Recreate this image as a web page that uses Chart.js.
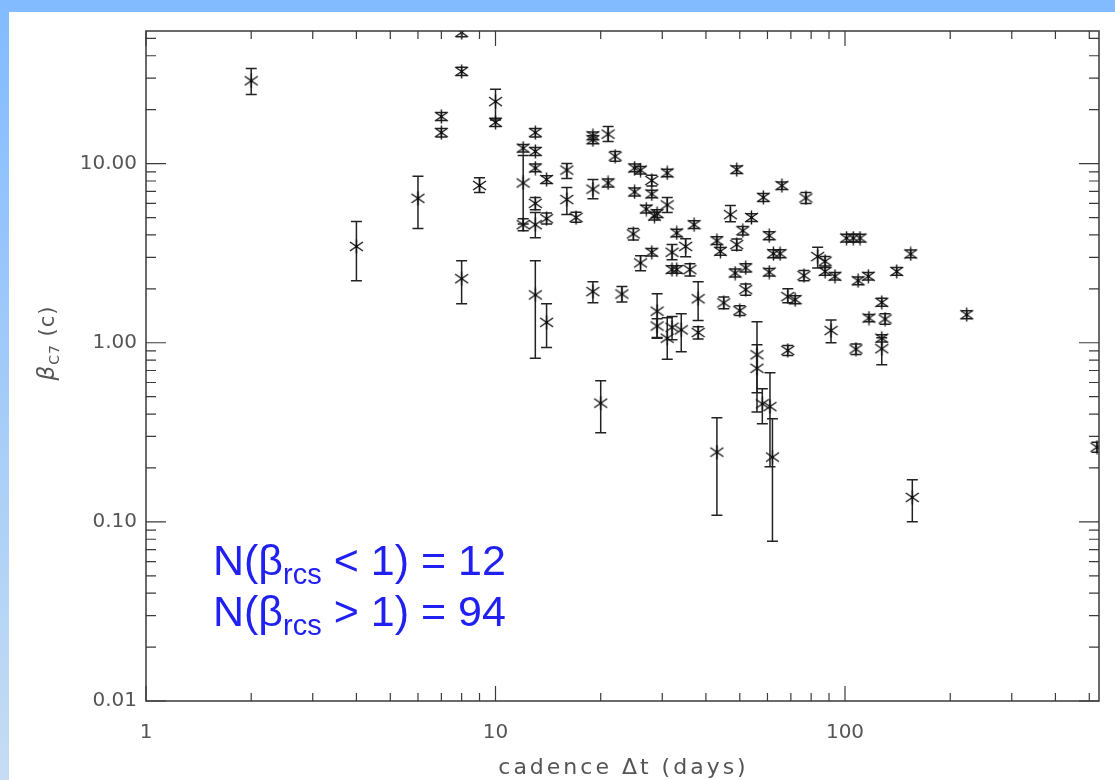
<!DOCTYPE html>
<html><head><meta charset="utf-8">
<script src="https://cdn.jsdelivr.net/npm/chart.js@4.4.1/dist/chart.umd.min.js"></script>
<style>html,body{margin:0;padding:0;background:#fff;overflow:hidden}canvas{display:block}</style>
</head><body>
<canvas id="c" width="1115" height="780"></canvas>
<script>
// cadence (days)
const cadence = [
  2.0, 4.0, 6.0, 8.0, 8.0, 8.0, 7.0, 7.0, 10.0, 10.0,
  9.0, 12.0, 12.0, 12.0, 13.0, 13.0, 13.0, 13.0, 13.0, 13.0,
  14.0, 14.0, 14.0, 16.0, 16.0, 17.0, 19.0, 19.0, 19.0, 19.0,
  20.0, 21.0, 21.0, 22.0, 23.0, 25.0, 26.0, 25.0, 24.8, 26.0,
  28.0, 28.0, 27.0, 28.0, 29.0, 28.5, 31.0, 31.0, 29.0, 29.0,
  31.0, 32.0, 34.0, 33.0, 32.0, 33.0, 32.0, 35.0, 36.0, 37.0,
  38.0, 38.0, 43.0, 44.0, 45.0, 43.0, 49.0, 47.0, 49.0, 51.0,
  54.0, 52.0, 48.5, 52.0, 50.0, 56.0, 56.0, 58.0, 61.0, 62.0,
  58.4, 60.7, 62.4, 65.2, 60.7, 66.0, 68.6, 72.0, 68.6, 77.3,
  76.3, 83.5, 87.7, 87.7, 93.6, 91.2, 101, 105.6, 110.4, 109,
  116.6, 127.4, 117.1, 130.2, 107.5, 127.4, 127.4, 140.6, 154.2, 223,
  155.8, 526
];
// beta_C7 (c)
const beta = [
  29, 3.45, 6.4, 2.28, 32.7, 54, 18.3, 14.9, 22.2, 17.0,
  7.55, 12.2, 7.8, 4.56, 14.9, 11.7, 9.45, 6.0, 4.56, 1.85,
  8.15, 4.93, 1.30, 9.2, 6.3, 5.0, 14.3, 13.6, 7.2, 1.93,
  0.46, 14.6, 7.8, 11.0, 1.87, 9.45, 9.2, 6.95, 4.05, 2.79,
  8.05, 6.77, 5.58, 3.2, 5.26, 5.1, 8.87, 5.88, 1.50, 1.24,
  1.06, 1.22, 1.18, 4.1, 3.2, 2.56, 2.56, 3.45, 2.56, 4.56,
  1.76, 1.14, 3.71, 3.24, 1.67, 0.245, 9.26, 5.19, 3.53, 4.22,
  5.0, 2.62, 2.45, 1.98, 1.51, 0.857, 0.72, 0.456, 0.44, 0.23,
  6.48, 3.96, 3.14, 3.14, 2.48, 7.54, 1.81, 1.74, 0.906, 6.43,
  2.37, 3.03, 2.85, 2.5, 2.35, 1.17, 3.84, 3.84, 3.84, 2.22,
  2.35, 1.68, 1.374, 1.356, 0.922, 1.06, 0.926, 2.5, 3.13, 1.434,
  0.137, 0.261
];
// lower end of error bar
const betaLo = [
  24.3, 2.22, 4.35, 1.65, 31.0, 51, 17.4, 14.1, 17.5, 16.1,
  6.9, 11.6, 4.6, 4.22, 14.1, 11.1, 9.0, 5.53, 3.86, 0.82,
  7.75, 4.6, 0.94, 8.25, 5.2, 4.7, 13.6, 12.9, 6.37, 1.67,
  0.314, 13.3, 7.4, 10.3, 1.69, 9.0, 8.75, 6.6, 3.75, 2.52,
  7.5, 6.45, 5.3, 3.05, 5.0, 4.85, 8.45, 5.33, 1.07, 1.06,
  0.81, 1.04, 0.89, 3.9, 2.91, 2.44, 2.44, 3.02, 2.36, 4.35,
  1.33, 1.05, 3.53, 3.08, 1.55, 0.109, 8.8, 4.74, 3.28, 4.0,
  4.75, 2.48, 2.33, 1.84, 1.42, 0.526, 0.41, 0.353, 0.203, 0.078,
  6.15, 3.76, 2.98, 2.98, 2.36, 7.18, 1.67, 1.65, 0.85, 5.98,
  2.22, 2.61, 2.68, 2.38, 2.24, 1.0, 3.65, 3.65, 3.65, 2.11,
  2.24, 1.6, 1.31, 1.27, 0.86, 1.01, 0.754, 2.38, 2.98, 1.36,
  0.1, 0.245
];
// upper end of error bar
const betaHi = [
  34, 4.75, 8.5, 2.87, 34.5, 57, 19.3, 15.7, 26.0, 17.9,
  8.35, 12.8, 11.1, 4.93, 15.7, 12.3, 9.95, 6.46, 5.33, 2.87,
  8.55, 5.3, 1.65, 10.0, 7.35, 5.35, 15.0, 14.3, 8.15, 2.19,
  0.613, 16.1, 8.2, 11.7, 2.06, 9.95, 9.65, 7.3, 4.35, 3.06,
  8.6, 7.1, 5.85, 3.36, 5.52, 5.35, 9.3, 6.46, 1.88, 1.36,
  1.38, 1.40, 1.45, 4.3, 3.53, 2.69, 2.69, 3.81, 2.76, 4.8,
  2.19, 1.23, 3.9, 3.4, 1.8, 0.381, 9.7, 5.83, 3.8, 4.45,
  5.25, 2.76, 2.58, 2.13, 1.61, 1.31, 0.975, 0.553, 0.68, 0.376,
  6.8, 4.17, 3.3, 3.3, 2.6, 7.9, 2.0, 1.83, 0.965, 6.89,
  2.53, 3.41, 3.03, 2.63, 2.47, 1.34, 4.03, 4.03, 4.03, 2.33,
  2.47, 1.77, 1.44, 1.45, 0.985, 1.11, 1.066, 2.63, 3.29, 1.51,
  0.172, 0.278
];
const xTickValues = [1, 10, 100];
const xTickLabels = ['1', '10', '100'];
const yTickValues = [0.01, 0.1, 1, 10];
const yTickLabels = ['0.01', '0.10', '1.00', '10.00'];
const xRange = [1, 533];
const yRange = [0.01, 55];
const countBelow = 12;
const countAbove = 94;

// asterisk marker
function makeAsterisk() {
  const c = document.createElement('canvas');
  c.width = 15; c.height = 15;
  const g = c.getContext('2d');
  g.strokeStyle = '#151515';
  g.lineWidth = 1.4;
  g.beginPath();
  g.moveTo(7.5, 0.5); g.lineTo(7.5, 14.5);
  g.moveTo(1, 3); g.lineTo(14, 12);
  g.moveTo(14, 3); g.lineTo(1, 12);
  g.stroke();
  g.fillStyle = '#111';
  g.fillRect(6, 6, 3, 3);
  return c;
}
const asterisk = makeAsterisk();

const framePlugin = {
  id: 'frame',
  beforeDraw(chart) {
    const ctx = chart.ctx;
    ctx.save();
    ctx.fillStyle = '#ffffff';
    ctx.fillRect(0, 0, chart.width, chart.height);
    ctx.fillStyle = '#82bbff';
    ctx.fillRect(0, 0, chart.width, 12);
    const gr = ctx.createLinearGradient(0, 0, 0, chart.height);
    gr.addColorStop(0, '#82bbff');
    gr.addColorStop(1, '#c5dcf3');
    ctx.fillStyle = gr;
    ctx.fillRect(0, 0, 9, chart.height);
    ctx.restore();
  },
  beforeDatasetsDraw(chart) {
    const ctx = chart.ctx;
    const a = chart.chartArea;
    const xs = chart.scales.x, ys = chart.scales.y;
    ctx.save();
    ctx.beginPath();
    ctx.rect(a.left, a.top, a.right - a.left, a.bottom - a.top);
    ctx.clip();
    ctx.strokeStyle = '#222222';
    ctx.lineWidth = 1.5;
    for (let i = 0; i < cadence.length; i++) {
      const px = xs.getPixelForValue(cadence[i]);
      const pLo = ys.getPixelForValue(betaLo[i]);
      const pHi = ys.getPixelForValue(betaHi[i]);
      ctx.beginPath();
      ctx.moveTo(px, pLo); ctx.lineTo(px, pHi);
      ctx.moveTo(px - 5.5, pLo); ctx.lineTo(px + 5.5, pLo);
      ctx.moveTo(px - 5.5, pHi); ctx.lineTo(px + 5.5, pHi);
      ctx.stroke();
    }
    ctx.restore();
  },
  afterDraw(chart) {
    const ctx = chart.ctx;
    const a = chart.chartArea;
    const xs = chart.scales.x, ys = chart.scales.y;
    ctx.save();
    ctx.strokeStyle = '#3a3a3a';
    ctx.lineWidth = 1.5;
    ctx.strokeRect(a.left, a.top, a.right - a.left, a.bottom - a.top);
    ctx.lineWidth = 1.2;
    ctx.beginPath();
    // x ticks (inward, bottom and top)
    for (let d = 1; d <= 1000; d *= 10) {
      for (let m = 1; m <= 9; m++) {
        const v = d * m;
        if (v < xRange[0] || v > xRange[1]) continue;
        const p = xs.getPixelForValue(v);
        const len = m === 1 ? 15 : 8;
        ctx.moveTo(p, a.bottom); ctx.lineTo(p, a.bottom - len);
        ctx.moveTo(p, a.top); ctx.lineTo(p, a.top + len);
      }
    }
    // y ticks (inward, left and right)
    for (let d = 0.01; d <= 100; d *= 10) {
      for (let m = 1; m <= 9; m++) {
        const v = d * m;
        if (v < yRange[0] * 0.999 || v > yRange[1]) continue;
        const p = ys.getPixelForValue(v);
        const len = m === 1 ? 20 : 10;
        ctx.moveTo(a.left, p); ctx.lineTo(a.left + len, p);
        ctx.moveTo(a.right, p); ctx.lineTo(a.right - len, p);
      }
    }
    ctx.stroke();

    // axis titles
    ctx.fillStyle = '#555555';
    ctx.textBaseline = 'alphabetic';
    ctx.textAlign = 'center';
    ctx.font = '22px "DejaVu Sans"';
    if ('letterSpacing' in ctx) ctx.letterSpacing = '3px';
    ctx.fillText('cadence \u0394t (days)', (a.left + a.right) / 2 + 1, 774);
    if ('letterSpacing' in ctx) ctx.letterSpacing = '1px';
    // y title rotated
    ctx.save();
    ctx.translate(54, 343);
    ctx.rotate(-Math.PI / 2);
    ctx.textAlign = 'left';
    const parts = [
      { t: '\u03b2', f: 'italic 23px "DejaVu Sans"', dy: 0 },
      { t: 'C7', f: '14px "DejaVu Sans"', dy: 5 },
      { t: ' (c)', f: '21px "DejaVu Sans"', dy: 0 }
    ];
    let total = 0;
    parts.forEach(p => { ctx.font = p.f; p.w = ctx.measureText(p.t).width; total += p.w; });
    let x0 = -total / 2;
    parts.forEach(p => { ctx.font = p.f; ctx.fillText(p.t, x0, p.dy); x0 += p.w; });
    ctx.restore();
    if ('letterSpacing' in ctx) ctx.letterSpacing = '0px';

    // blue annotation
    ctx.fillStyle = '#2020f2';
    ctx.textAlign = 'left';
    const lines = [
      ['N(\u03b2', 'rcs', ' < 1) = ' + countBelow],
      ['N(\u03b2', 'rcs', ' > 1) = ' + countAbove]
    ];
    const baseY = [575, 626];
    lines.forEach((ln, k) => {
      let x = 213;
      ctx.font = '43px "Liberation Sans"';
      ctx.fillText(ln[0], x, baseY[k]); x += ctx.measureText(ln[0]).width;
      ctx.font = '29px "Liberation Sans"';
      ctx.fillText(ln[1], x, baseY[k] + 9); x += ctx.measureText(ln[1]).width;
      ctx.font = '43px "Liberation Sans"';
      ctx.fillText(ln[2], x, baseY[k]);
    });
    ctx.restore();
  }
};

const tickFont = { family: '"DejaVu Sans"', size: 20 };
new Chart(document.getElementById('c'), {
  type: 'scatter',
  data: {
    datasets: [{
      data: cadence.map((x, i) => ({ x: x, y: beta[i] })),
      pointStyle: asterisk,
      pointRadius: 7,
      pointHoverRadius: 7,
      clip: 0
    }]
  },
  options: {
    responsive: false,
    devicePixelRatio: 1,
    animation: false,
    events: [],
    layout: { padding: { left: 0, top: 31, right: 16, bottom: 0 } },
    plugins: { legend: { display: false }, tooltip: { enabled: false } },
    scales: {
      x: {
        type: 'logarithmic', min: xRange[0], max: xRange[1],
        afterBuildTicks: s => { s.ticks = xTickValues.map(v => ({ value: v })); },
        afterFit: s => { s.height = 79; },
        grid: { display: false, drawTicks: false },
        border: { display: false },
        ticks: {
          autoSkip: false, maxRotation: 0, padding: 20, color: '#555555', font: tickFont,
          callback: (v, i) => xTickLabels[i]
        }
      },
      y: {
        type: 'logarithmic', min: yRange[0], max: yRange[1],
        afterBuildTicks: s => { s.ticks = yTickValues.map(v => ({ value: v })); },
        afterFit: s => { s.width = 146; },
        grid: { display: false, drawTicks: false },
        border: { display: false },
        ticks: {
          autoSkip: false, padding: 9, color: '#555555', font: tickFont,
          callback: (v, i) => yTickLabels[i]
        }
      }
    }
  },
  plugins: [framePlugin]
});
</script>
</body></html>
